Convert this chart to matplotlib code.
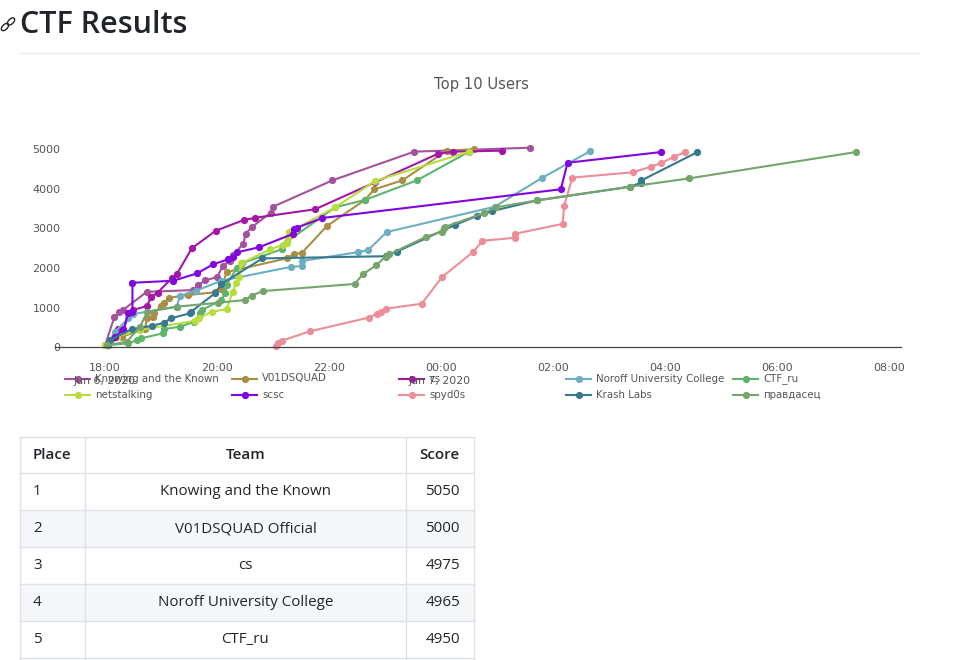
import matplotlib
matplotlib.use('Agg')
import matplotlib.pyplot as plt
from matplotlib.patches import Rectangle, Ellipse

#Datos: horas desde 18:00 del 6 de junio y puntaje de cada equipo
knowing_t = [0, 0.166, 0.255, 0.32, 0.745, 1.577, 1.666, 1.79, 2.005, 2.10, 2.23, 2.29, 2.47, 2.51, 2.63, 2.96, 3.0, 4.06, 5.52, 7.59]
knowing_s = [50, 757, 880, 940, 1400, 1445, 1570, 1690, 1775, 2050, 2180, 2330, 2620, 2870, 3045, 3400, 3550, 4215, 4940, 5040]

void_t = [0.03, 0.30, 0.71, 0.755, 0.86, 0.88, 1.0, 1.06, 1.14, 1.49, 1.96, 2.08, 2.17, 3.245, 3.375, 3.52, 3.96, 4.64, 4.81, 5.31, 6.10, 6.59]
void_s = [50, 270, 460, 730, 775, 860, 1040, 1125, 1250, 1320, 1390, 1465, 1900, 2245, 2350, 2390, 3060, 3720, 3990, 4215, 4965, 5000]

cs_t = [0.03, 0.24, 0.33, 0.43, 0.495, 0.745, 0.83, 0.94, 1.19, 1.28, 1.55, 1.98, 2.48, 2.68, 3.75, 4.82, 5.95, 6.22, 7.09]
cs_s = [50, 455, 450, 875, 940, 1040, 1280, 1380, 1740, 1840, 2500, 2945, 3215, 3270, 3485, 4165, 4890, 4940, 4965]

noroff_t = [0.03, 0.18, 0.416, 0.505, 1.28, 1.34, 1.625, 2.08, 3.33, 3.52, 3.52, 4.525, 4.70, 5.03, 6.96, 7.80, 8.66]
noroff_s = [50, 395, 730, 840, 1025, 1300, 1430, 1680, 2035, 2050, 2180, 2405, 2455, 2910, 3550, 4275, 4950]

ctf_t = [0.03, 0.416, 0.576, 0.64, 1.04, 1.06, 1.34, 1.59, 1.70, 1.73, 2.08, 2.14, 2.17, 2.35, 2.44, 3.155, 3.245, 4.11, 4.64, 5.57, 6.5]
ctf_s = [50, 100, 185, 225, 355, 460, 520, 645, 860, 940, 1195, 1360, 1575, 1995, 2120, 2475, 2665, 3535, 3720, 4215, 4940]

net_t = [0, 0.21, 0.625, 1.61, 1.68, 1.905, 2.17, 2.28, 2.34, 2.39, 2.43, 2.95, 3.18, 3.25, 3.26, 3.28, 4.11, 4.83, 6.5]
net_s = [50, 270, 440, 670, 730, 900, 960, 1405, 1615, 1780, 2120, 2475, 2585, 2640, 2795, 2900, 3535, 4205, 4940]

scsc_t = [0.045, 0.18, 0.33, 0.416, 0.49, 0.49, 1.22, 1.65, 1.93, 2.20, 2.29, 2.36, 2.75, 3.35, 3.375, 3.43, 3.88, 8.14, 8.26, 9.93]
scsc_s = [50, 270, 440, 860, 900, 1630, 1680, 1870, 2095, 2220, 2290, 2400, 2525, 2860, 2985, 3020, 3265, 3990, 4660, 4930]

spyd_t = [3.05, 3.095, 3.155, 3.66, 4.71, 4.85, 4.92, 5.02, 5.655, 6.02, 6.58, 6.74, 7.32, 7.33, 8.17, 8.20, 8.345, 9.43, 9.75, 9.92, 10.16, 10.36]
spyd_s = [30, 115, 165, 405, 750, 850, 900, 975, 1100, 1775, 2415, 2690, 2765, 2870, 3115, 3570, 4285, 4420, 4560, 4645, 4810, 4930]

krash_t = [0.045, 0.09, 0.477, 0.845, 1.06, 1.17, 1.52, 1.54, 1.96, 2.08, 2.81, 5.01, 5.21, 6.25, 6.65, 6.91, 7.72, 9.375, 9.565, 9.58, 10.58]
krash_s = [50, 180, 460, 545, 620, 730, 860, 900, 1360, 1600, 2245, 2300, 2415, 3090, 3320, 3440, 3710, 4055, 4155, 4215, 4930]

pravda_t = [0.04, 0.387, 0.625, 0.755, 1.28, 2.02, 2.50, 2.62, 2.82, 4.46, 4.60, 4.84, 5.01, 5.08, 5.74, 6.01, 6.05, 6.08, 6.76, 6.98, 7.72, 9.375, 10.43, 13.41]
pravda_s = [50, 140, 520, 900, 1025, 1125, 1195, 1305, 1420, 1600, 1840, 2070, 2290, 2350, 2795, 2920, 3005, 3045, 3385, 3535, 3710, 4055, 4265, 4930]

names = ['Knowing and the Known', 'V01DSQUAD', 'cs', 'Noroff University College', 'CTF_ru',
         'netstalking', 'scsc', 'spyd0s', 'Krash Labs', 'правдасец']
colors = ['#a5529e', '#a98e45', '#a317a8', '#6cafc1', '#5fb46c',
          '#b9dd3f', '#8205dd', '#ec8e99', '#37798f', '#75a56d']
times = [knowing_t, void_t, cs_t, noroff_t, ctf_t, net_t, scsc_t, spyd_t, krash_t, pravda_t]
scores = [knowing_s, void_s, cs_s, noroff_s, ctf_s, net_s, scsc_s, spyd_s, krash_s, pravda_s]

xticks = [0, 2, 4, 6, 8, 10, 12, 14]
xlabels = ['18:00', '20:00', '22:00', '00:00', '02:00', '04:00', '06:00', '08:00']
yticks = [0, 1000, 2000, 3000, 4000, 5000]

#Tabla
headers = ['Place', 'Team', 'Score']
places = ['1', '2', '3', '4', '5']
teams = ['Knowing and the Known', 'V01DSQUAD Official', 'cs', 'Noroff University College', 'CTF_ru']
points = ['5050', '5000', '4975', '4965', '4950']

W = 974
H = 660
fig = plt.figure(figsize=(W/100, H/100), dpi=100, facecolor='white')

#Capa en pixeles para la pagina (titulo, leyenda, tabla)
page = fig.add_axes([0, 0, 1, 1])
page.set_xlim(0, W)
page.set_ylim(H, 0)
page.axis('off')

page.text(20, 25, 'CTF Results', fontsize=22, family='Open Sans', weight='semibold', color='#212529', va='center')
page.plot([20, 919], [53, 53], color='#e9ecef', lw=1)
page.add_patch(Ellipse((5, 27), 9, 5, angle=-45, fill=False, ec='#212529', lw=1))
page.add_patch(Ellipse((11, 21.5), 9, 5, angle=-45, fill=False, ec='#212529', lw=1))
page.text(481, 85, 'Top 10 Users', fontsize=10.6, color='#555555', ha='center', va='center')

#Grafica
ax = fig.add_axes([55/W, 1-347.3/H, 846/W, 217.3/H])
ax.patch.set_alpha(0)
for t, s, c in zip(times, scores, colors):
    ax.plot(t, s, color=c, lw=1.5, marker='o', ms=4.2, clip_on=False)
ax.set_xlim(-0.893, 14.214)
ax.set_ylim(0, 5487)
ax.set_xticks(xticks, xlabels)
ax.set_yticks(yticks, [str(y) for y in yticks])
ax.tick_params(length=0, labelsize=8, labelcolor='#555555')
ax.tick_params(axis='x', pad=11)
ax.tick_params(axis='y', pad=-4)
for side in ['top', 'right', 'left']:
    ax.spines[side].set_visible(False)
ax.spines['bottom'].set_color('#444444')
ax.spines['bottom'].set_linewidth(0.9)

page.text(105, 381, 'Jun 6, 2020', fontsize=7.8, color='#555555', ha='center', va='center')
page.text(440, 381, 'Jun 7, 2020', fontsize=7.8, color='#555555', ha='center', va='center')

#Leyenda
leg_x = [65, 232, 399, 566, 733]
leg_y = [378.5, 395]
for i, (name, c) in enumerate(zip(names, colors)):
    x0 = leg_x[i % 5]
    y0 = leg_y[i // 5]
    page.plot([x0, x0+25], [y0, y0], color=c, lw=1.5)
    page.plot([x0+12.5], [y0], color=c, marker='o', ms=4.2)
    page.text(x0+30, y0, name, fontsize=7.4, color='#555555', va='center')

#Tabla
col_x = [20, 85, 406, 474]
row_y = [436.7, 473.3, 510.3, 547.3, 584.3, 621.3, 658.3]
line_c = '#dee2e6'
for r in [1, 3]:
    page.add_patch(Rectangle((col_x[0], row_y[r+1]), col_x[3]-col_x[0], row_y[r+2]-row_y[r+1], fc='#f6f7f9', ec='none'))
for y in row_y:
    page.plot([col_x[0], col_x[3]], [y, y], color=line_c, lw=1)
for x in col_x:
    page.plot([x, x], [row_y[0], H], color=line_c, lw=1)

txt = dict(fontsize=10.9, family='Open Sans', color='#212529', va='center')
ymid = (row_y[0]+row_y[1])/2
page.text(col_x[0]+13, ymid, headers[0], weight='semibold', **txt)
page.text((col_x[1]+col_x[2])/2, ymid, headers[1], weight='semibold', ha='center', **txt)
page.text(col_x[3]-14, ymid, headers[2], weight='semibold', ha='right', **txt)
for i in range(5):
    ymid = (row_y[i+1]+row_y[i+2])/2
    page.text(col_x[0]+13, ymid, places[i], **txt)
    page.text((col_x[1]+col_x[2])/2, ymid, teams[i], ha='center', **txt)
    page.text(col_x[3]-14, ymid, points[i], ha='right', **txt)

fig.savefig('out.png', dpi=100)
